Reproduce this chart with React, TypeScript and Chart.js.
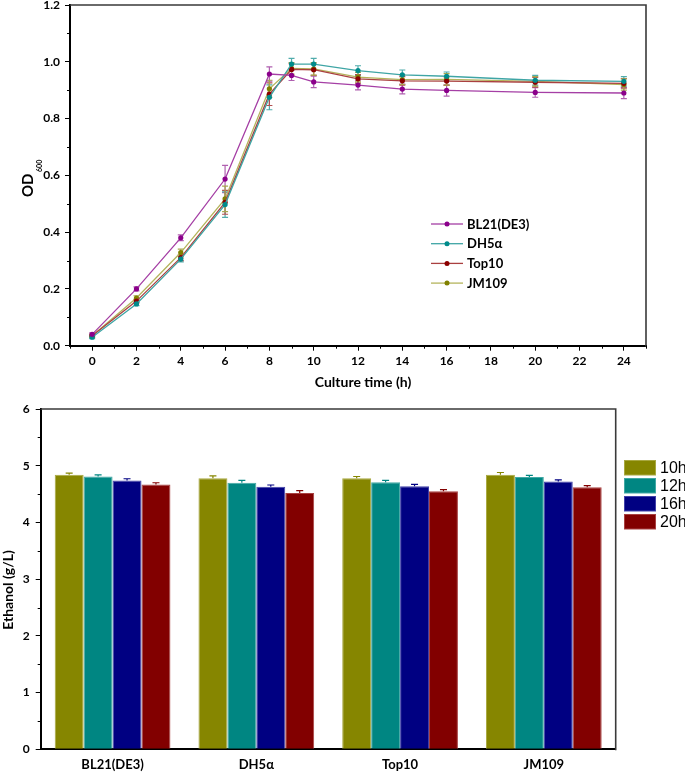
import React, { useEffect, useRef } from 'react';
import { Chart, registerables } from 'chart.js';
Chart.register(...registerables);

const FONT = 'Lato, "Open Sans", "DejaVu Sans", sans-serif';

// ---------- Growth curve (top) ----------
const timeHours = [0, 2, 4, 6, 8, 9, 10, 12, 14, 16, 20, 24];
const strainNames = ['BL21(DE3)', 'DH5α', 'Top10', 'JM109'];
const odBL21 = [0.04, 0.2, 0.38, 0.587, 0.957, 0.952, 0.929, 0.918, 0.904, 0.899, 0.892, 0.89];
const odDH5a = [0.03, 0.147, 0.305, 0.497, 0.875, 0.992, 0.992, 0.969, 0.954, 0.949, 0.935, 0.931];
const odTop10 = [0.035, 0.157, 0.31, 0.505, 0.886, 0.973, 0.972, 0.94, 0.933, 0.932, 0.928, 0.924];
const odJM109 = [0.035, 0.168, 0.328, 0.517, 0.905, 0.977, 0.975, 0.946, 0.937, 0.938, 0.931, 0.92];
const errBL21 = [0.005, 0.007, 0.01, 0.048, 0.025, 0.018, 0.02, 0.017, 0.017, 0.02, 0.017, 0.02];
const errDH5a = [0.005, 0.006, 0.01, 0.045, 0.044, 0.02, 0.02, 0.017, 0.017, 0.015, 0.017, 0.017];
const errTop10 = [0.005, 0.006, 0.01, 0.042, 0.04, 0.02, 0.02, 0.015, 0.015, 0.015, 0.017, 0.017];
const errJM109 = [0.005, 0.008, 0.012, 0.045, 0.03, 0.02, 0.022, 0.017, 0.017, 0.02, 0.017, 0.02];
const odYTicks = [0, 0.2, 0.4, 0.6, 0.8, 1.0, 1.2];

const growthSeries = [odBL21, odDH5a, odTop10, odJM109];
const growthErrors = [errBL21, errDH5a, errTop10, errJM109];
const markerColors = ['#8B008B', '#008B8B', '#8B0000', '#808000'];
const lineColors = ['#A53FA5', '#3FA5A5', '#AA4040', '#B4B45C'];
const errColors = ['#B060B0', '#50ACAC', '#B05050', '#A8A850'];

// ---------- Ethanol bars (bottom) ----------
const ethanolStrains = ['BL21(DE3)', 'DH5α', 'Top10', 'JM109'];
const sampleTimes = ['10h', '12h', '16h', '20h'];
const eth10h = [4.84, 4.78, 4.78, 4.84];
const eth12h = [4.81, 4.7, 4.71, 4.8];
const eth16h = [4.74, 4.63, 4.64, 4.72];
const eth20h = [4.67, 4.52, 4.55, 4.62];
const ethErr10h = [0.03, 0.04, 0.03, 0.04];
const ethErr12h = [0.03, 0.04, 0.03, 0.03];
const ethErr16h = [0.03, 0.03, 0.03, 0.03];
const ethErr20h = [0.03, 0.04, 0.03, 0.03];
const ethanolSeries = [eth10h, eth12h, eth16h, eth20h];
const ethanolErrors = [ethErr10h, ethErr12h, ethErr16h, ethErr20h];
const barColors = ['#868600', '#008682', '#000082', '#820000'];
const barEdges = ['#A8A840', '#40A8A4', '#4040A8', '#A84040'];

function errorBarsPlugin(upOnly: boolean, half: number) {
  return {
    id: 'errorBars' + (upOnly ? 'Up' : 'Both'),
    [upOnly ? 'afterDatasetsDraw' : 'beforeDatasetsDraw']: (chart: any) => {
      const ctx = chart.ctx;
      const ys = chart.scales.y;
      chart.data.datasets.forEach((ds: any, i: number) => {
        const meta = chart.getDatasetMeta(i);
        if (!ds.errors) return;
        ctx.save();
        ctx.strokeStyle = ds.errorColor;
        ctx.lineWidth = 1.2;
        meta.data.forEach((el: any, j: number) => {
          const v = meta.controller.getParsed(j).y;
          const e = ds.errors[j];
          const x = el.x;
          const yT = ys.getPixelForValue(v + e);
          const yB = upOnly ? ys.getPixelForValue(v) : ys.getPixelForValue(v - e);
          ctx.beginPath();
          ctx.moveTo(x, yB);
          ctx.lineTo(x, yT);
          ctx.moveTo(x - half, yT);
          ctx.lineTo(x + half, yT);
          if (!upOnly) {
            ctx.moveTo(x - half, yB);
            ctx.lineTo(x + half, yB);
          }
          ctx.stroke();
        });
        ctx.restore();
      });
    },
  };
}

function framePlugin(minorX: number[] | null, minorY: number[]) {
  return {
    id: 'frame',
    afterDraw: (chart: any) => {
      const ctx = chart.ctx;
      const { left, right, top, bottom } = chart.chartArea;
      ctx.save();
      ctx.strokeStyle = '#3a3a3a';
      ctx.lineWidth = 1.6;
      ctx.beginPath();
      ctx.moveTo(left, top);
      ctx.lineTo(right, top);
      ctx.lineTo(right, bottom + 1);
      ctx.stroke();
      ctx.strokeStyle = '#000';
      ctx.lineWidth = 1;
      ctx.beginPath();
      if (minorX) {
        minorX.forEach((v) => {
          const px = Math.round(chart.scales.x.getPixelForValue(v)) + 0.5;
          ctx.moveTo(px, bottom);
          ctx.lineTo(px, bottom + 3);
        });
      }
      minorY.forEach((v) => {
        const py = Math.round(chart.scales.y.getPixelForValue(v)) + 0.5;
        ctx.moveTo(left, py);
        ctx.lineTo(left - 3, py);
      });
      ctx.stroke();
      ctx.restore();
    },
  };
}

const topDecor = {
  id: 'topDecor',
  afterDraw: (chart: any) => {
    const ctx = chart.ctx;
    ctx.save();
    ctx.fillStyle = '#000';
    // x title
    ctx.font = `bold 14px ${FONT}`;
    ctx.textAlign = 'center';
    ctx.textBaseline = 'middle';
    ctx.fillText('Culture time (h)', 363, 382);
    // y title OD600
    ctx.translate(33, 197);
    ctx.rotate(-Math.PI / 2);
    ctx.textAlign = 'left';
    ctx.textBaseline = 'alphabetic';
    ctx.font = `bold 15px ${FONT}`;
    ctx.fillText('OD', 0, 0);
    const w = ctx.measureText('OD').width;
    ctx.font = `bold 7px ${FONT}`;
    ctx.fillText('600', w + 1.5, 8.5);
    ctx.restore();
    // legend
    ctx.save();
    chart.data.datasets.forEach((ds: any, i: number) => {
      const y = 224 + i * 19.7;
      ctx.strokeStyle = ds.borderColor;
      ctx.lineWidth = 1.3;
      ctx.beginPath();
      ctx.moveTo(431, y);
      ctx.lineTo(463, y);
      ctx.stroke();
      ctx.fillStyle = ds.pointBackgroundColor;
      ctx.beginPath();
      ctx.arc(447, y, 2.5, 0, Math.PI * 2);
      ctx.fill();
      ctx.fillStyle = '#000';
      ctx.font = `bold 13px ${FONT}`;
      ctx.textAlign = 'left';
      ctx.textBaseline = 'middle';
      ctx.fillText(ds.label, 467, y + 0.5);
    });
    ctx.restore();
  },
};

const botDecor = {
  id: 'botDecor',
  afterDraw: (chart: any) => {
    const ctx = chart.ctx;
    ctx.save();
    ctx.fillStyle = '#000';
    ctx.translate(8, 195);
    ctx.rotate(-Math.PI / 2);
    ctx.font = `bold 14px ${FONT}`;
    ctx.textAlign = 'center';
    ctx.textBaseline = 'middle';
    ctx.fillText('Ethanol (g/L)', 0, 0);
    ctx.restore();
    ctx.save();
    chart.data.datasets.forEach((ds: any, i: number) => {
      const y = 65 + i * 18;
      ctx.fillStyle = ds.borderColor;
      ctx.fillRect(624, y, 32, 15.5);
      ctx.fillStyle = ds.backgroundColor;
      ctx.fillRect(625, y + 1, 30, 13.5);
      ctx.fillStyle = '#000';
      ctx.font = `16px "Liberation Sans", Arial, sans-serif`;
      ctx.textAlign = 'left';
      ctx.textBaseline = 'middle';
      ctx.fillText(ds.label, 660, y + 8.5);
    });
    ctx.restore();
  },
};

function topConfig(): any {
  const minorX: number[] = [];
  for (let v = -1; v <= 25; v += 2) minorX.push(v);
  const minorY: number[] = [];
  for (let k = 1; k <= 11; k += 2) minorY.push(k / 10);
  return {
    type: 'line',
    data: {
      datasets: growthSeries.map((s, i) => ({
        label: strainNames[i],
        data: timeHours.map((t, j) => ({ x: t, y: s[j] })),
        errors: growthErrors[i],
        errorColor: errColors[i],
        borderColor: lineColors[i],
        backgroundColor: markerColors[i],
        pointBackgroundColor: markerColors[i],
        pointBorderColor: markerColors[i],
        pointRadius: 2.6,
        pointBorderWidth: 0,
        borderWidth: 1.3,
        tension: 0,
      })),
    },
    options: {
      responsive: false,
      animation: false,
      devicePixelRatio: 1,
      layout: { padding: { left: 0, top: 5, right: 39, bottom: 0 } },
      plugins: { legend: { display: false }, tooltip: { enabled: false } },
      scales: {
        x: {
          type: 'linear',
          min: -1,
          max: 25,
          ticks: {
            stepSize: 1,
            autoSkip: false,
            maxRotation: 0,
            padding: 3,
            color: '#000',
            font: { family: FONT, size: 12, weight: 'bold' },
            callback: (v: any) => (Number(v) % 2 === 0 && Number(v) >= 0 && Number(v) <= 24 ? String(v) : ''),
          },
          grid: {
            display: true,
            drawOnChartArea: false,
            drawTicks: true,
            tickLength: 5,
            tickWidth: 1,
            tickColor: (c: any) => (c.tick && Number(c.tick.value) % 2 === 0 ? '#000' : 'rgba(0,0,0,0)'),
          },
          border: { display: true, color: '#000', width: 2 },
          afterFit: (s: any) => {
            s.height = 49.3;
            s.paddingLeft = 0;
            s.paddingRight = 0;
          },
        },
        y: {
          min: 0,
          max: 1.2,
          ticks: {
            stepSize: 0.2,
            padding: 5,
            color: '#000',
            font: { family: FONT, size: 12, weight: 'bold' },
            callback: (v: any) => {
              const hit = odYTicks.find((t) => Math.abs(t - Number(v)) < 1e-6);
              return hit !== undefined ? hit.toFixed(1) : '';
            },
          },
          grid: {
            display: true,
            drawOnChartArea: false,
            drawTicks: true,
            tickLength: 5,
            tickWidth: 1,
            tickColor: '#000',
          },
          border: { display: true, color: '#000', width: 2 },
          afterFit: (s: any) => {
            s.width = 70;
            s.paddingTop = 0;
            s.paddingBottom = 0;
          },
        },
      },
    },
    plugins: [errorBarsPlugin(false, 3), framePlugin(minorX, minorY), topDecor],
  };
}

function botConfig(): any {
  const minorY: number[] = [];
  for (let v = 0.5; v < 6; v += 1) minorY.push(v);
  return {
    type: 'bar',
    data: {
      labels: ethanolStrains,
      datasets: sampleTimes.map((t, i) => ({
        label: t,
        data: ethanolSeries[i],
        errors: ethanolErrors[i],
        errorColor: barColors[i],
        backgroundColor: barColors[i],
        borderColor: barEdges[i],
        borderWidth: 1,
        categoryPercentage: 0.805,
        barPercentage: 1,
      })),
    },
    options: {
      responsive: false,
      animation: false,
      devicePixelRatio: 1,
      layout: { padding: { left: 0, top: 14, right: 69.3, bottom: 0 } },
      plugins: { legend: { display: false }, tooltip: { enabled: false } },
      scales: {
        x: {
          ticks: {
            padding: 8,
            color: '#000',
            maxRotation: 0,
            font: { family: FONT, size: 13, weight: 'bold' },
          },
          grid: { display: false, drawTicks: false },
          border: { display: true, color: '#000', width: 2 },
          afterFit: (s: any) => {
            s.height = 24.7;
            s.paddingLeft = 0;
            s.paddingRight = 0;
          },
        },
        y: {
          min: 0,
          max: 6,
          ticks: {
            stepSize: 1,
            padding: 6,
            color: '#000',
            font: { family: FONT, size: 12, weight: 'bold' },
          },
          grid: {
            display: true,
            drawOnChartArea: false,
            drawTicks: true,
            tickLength: 5,
            tickWidth: 1,
            tickColor: '#000',
          },
          border: { display: true, color: '#000', width: 2 },
          afterFit: (s: any) => {
            s.width = 40.7;
            s.paddingTop = 0;
            s.paddingBottom = 0;
          },
        },
      },
    },
    plugins: [errorBarsPlugin(true, 3.5), framePlugin(null, minorY), botDecor],
  };
}

export default function App() {
  const topRef = useRef<HTMLCanvasElement>(null);
  const botRef = useRef<HTMLCanvasElement>(null);
  useEffect(() => {
    const c1 = new Chart(topRef.current as HTMLCanvasElement, topConfig());
    const c2 = new Chart(botRef.current as HTMLCanvasElement, botConfig());
    return () => {
      c1.destroy();
      c2.destroy();
    };
  }, []);
  return (
    <div style={{ position: 'fixed', left: 0, top: 0, width: 685, height: 774, background: '#fff' }}>
      <canvas
        ref={topRef}
        width={685}
        height={395}
        style={{ position: 'absolute', left: 0, top: 0, width: 685, height: 395 }}
      />
      <canvas
        ref={botRef}
        width={685}
        height={379}
        style={{ position: 'absolute', left: 0, top: 395, width: 685, height: 379 }}
      />
    </div>
  );
}
